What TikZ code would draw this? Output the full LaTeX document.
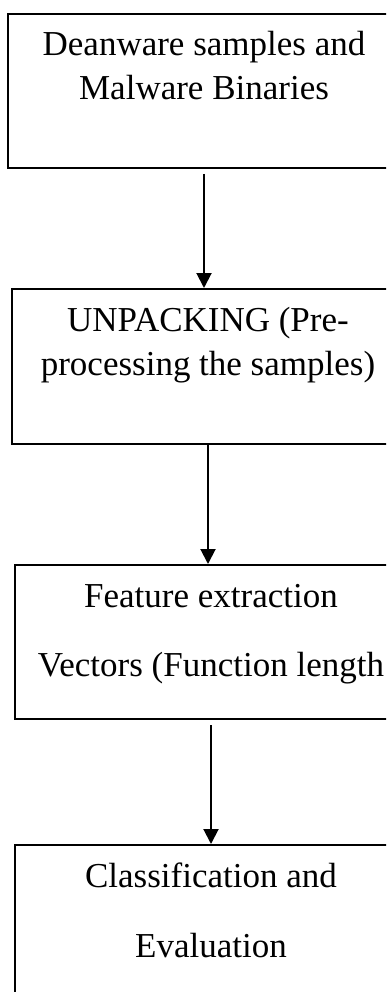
\documentclass[tikz,border=0pt]{standalone}
\usepackage{fontspec}
\setmainfont{Liberation Serif}
\usetikzlibrary{arrows.meta}

\tikzset{
  stage/.style={draw,line width=2pt,inner sep=0pt,anchor=north,
    font=\fontsize{35}{44}\selectfont},
  flow/.style={-{Triangle[width=15pt,length=15pt]},line width=2pt}
}
% text sits at the top of each box
\newcommand{\stagetext}[2]{\parbox[c][#1][t]{392pt}{\centering\rule{0pt}{42pt}#2}}

\begin{document}
\begin{tikzpicture}[x=1pt,y=-1pt]
    \useasboundingbox (0,0) rectangle (386,992);
    \clip (0,0) rectangle (386,992);
    \node[stage] (input) at (204,13) {\stagetext{154pt}{Deanware samples and\\Malware Binaries}};
    \node[stage] (unpack) at (208,288) {\stagetext{155pt}{UNPACKING (Pre-\\processing the samples)}};
    \node[stage] (feature) at (211,564) {\stagetext{154pt}{Feature extraction\\[25pt]Vectors (Function length}};
    \node[stage] (classify) at (211,844) {\stagetext{170pt}{Classification and\\[26pt]Evaluation}};
    \draw[flow,shorten <=5pt] (input.south) -- (input.south |- unpack.north);
    \draw[flow] (unpack.south) -- (unpack.south |- feature.north);
    \draw[flow,shorten <=5pt] (feature.south) -- (classify.north);
  \end{tikzpicture}
\end{document}
